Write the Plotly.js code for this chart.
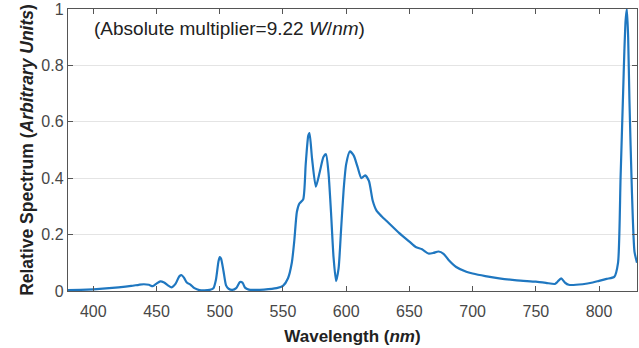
<!DOCTYPE html>
<html>
<head>
<meta charset="utf-8">
<script src="https://cdn.plot.ly/plotly-3.0.1.min.js"></script>
<style>html,body{margin:0;padding:0;background:#fff;}#chart{width:639px;height:348px;}</style>
</head>
<body>
<div id="chart"></div>
<script>
const wavelength = [380,390,400,410,420,430,436,440,444,447,450,453,456,459,462,465,468,470,472,474,477,480,484,488,492,495,497,499,500,501,503,505,507,510,513,516,518,520,523,527,535,545,550,554,557,559,561,563,566,568,570,571,573,576,579,582,584,586,588,590,592,594,596,598,600,603,606,609,612,615,618,621,624,628,632,642,650,655,660,665,669,673,677,681,687,695,700,710,721,735,750,758,765,767,770,773,776,787,795,800,806,812,815,817,819,820,821,822,823,824,826,828,830];
const spectrum = [0.003,0.004,0.006,0.009,0.013,0.018,0.022,0.024,0.022,0.017,0.026,0.034,0.030,0.020,0.013,0.025,0.052,0.056,0.045,0.030,0.022,0.010,0.003,0.002,0.004,0.010,0.040,0.105,0.12,0.115,0.07,0.02,0.008,0.004,0.010,0.032,0.030,0.012,0.005,0.004,0.005,0.010,0.018,0.045,0.10,0.18,0.28,0.31,0.325,0.45,0.55,0.56,0.47,0.37,0.42,0.475,0.485,0.42,0.28,0.12,0.035,0.08,0.22,0.36,0.45,0.495,0.48,0.44,0.40,0.41,0.39,0.32,0.285,0.265,0.248,0.205,0.175,0.156,0.148,0.133,0.135,0.14,0.132,0.11,0.085,0.068,0.062,0.053,0.045,0.038,0.033,0.029,0.025,0.032,0.045,0.030,0.022,0.024,0.030,0.036,0.043,0.05,0.10,0.40,0.70,0.85,0.96,1.0,0.90,0.68,0.35,0.14,0.10];
const xTicks = [400,450,500,550,600,650,700,750,800];
const yTicks = [0,0.2,0.4,0.6,0.8,1];
const yTickText = ['0','0.2','0.4','0.6','0.8','1'];

const font = 'Liberation Sans, Arial, sans-serif';
const axisCommon = {
  showline: true, linecolor: '#555', linewidth: 1.2, mirror: 'ticks',
  ticks: 'inside', ticklen: 5, tickcolor: '#555', tickwidth: 1,
  tickfont: {family: font, size: 16, color: '#474747'},
  ticklabeloverflow: 'allow',
  zeroline: false
};
const layout = {
  width: 639, height: 348,
  margin: {l: 68, r: 2, t: 9, b: 57},
  paper_bgcolor: '#fff', plot_bgcolor: '#fff',
  showlegend: false,
  xaxis: Object.assign({}, axisCommon, {
    range: [380, 830], tickvals: xTicks, showgrid: false,
    ticklabelstandoff: 6,
    title: {text: '<b>Wavelength (<i>nm</i>)</b>', font: {family: font, size: 17, color: '#222'}, standoff: 10}
  }),
  yaxis: Object.assign({}, axisCommon, {
    range: [0, 1], tickvals: yTicks, ticktext: yTickText,
    showgrid: true, gridcolor: '#e4e4e4', gridwidth: 1,
    title: {text: '<b>Relative Spectrum (<i>Arbitrary Units</i>)</b>', font: {family: font, size: 17.5, color: '#222'}, standoff: 3}
  }),
  annotations: [{
    xref: 'paper', yref: 'paper', x: 0.043, y: 0.93, xanchor: 'left', yanchor: 'middle',
    text: '(Absolute multiplier=9.22 <i>W</i>/<i>nm</i>)', showarrow: false,
    font: {family: font, size: 19, color: '#222'}
  }]
};
const trace = {
  x: wavelength, y: spectrum, type: 'scatter', mode: 'lines',
  line: {color: '#1f77c0', width: 2.2, shape: 'spline', smoothing: 0.6},
  cliponaxis: true, hoverinfo: 'skip'
};
Plotly.newPlot('chart', [trace], layout, {staticPlot: true, displayModeBar: false});
</script>
</body>
</html>
